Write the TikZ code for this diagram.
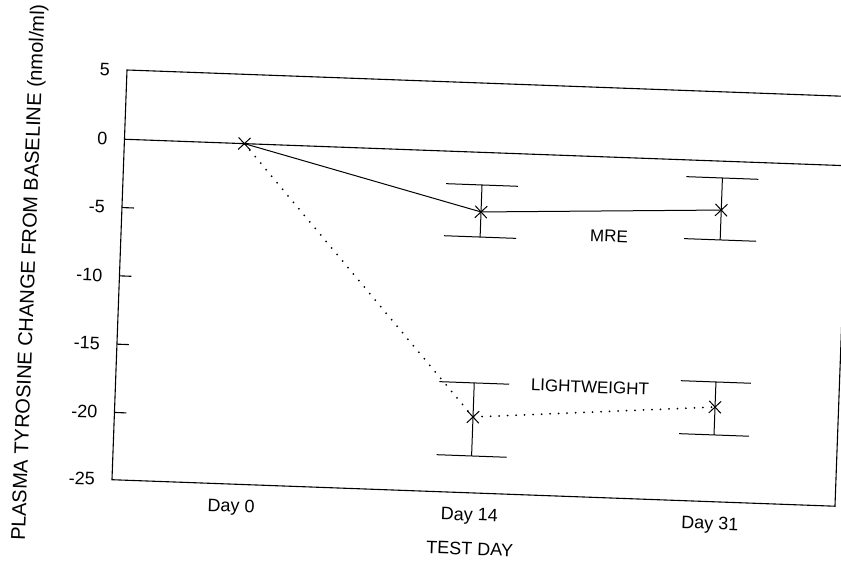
\documentclass[tikz,border=0pt]{standalone}
\usepackage{fontspec}
\setmainfont{Liberation Sans}
\usetikzlibrary{shapes.misc}
\begin{document}
\begin{tikzpicture}[x=1pt,y=-1pt,
  frameline/.style={line width=1.1pt},
  dataline/.style={line width=1pt},
  dotline/.style={line width=2pt, line cap=round, dash pattern=on 0pt off 8.5pt},
  errbar/.style={line width=1pt},
  xmark/.style={cross out, draw, line width=1pt, minimum size=11pt, inner sep=0pt},
  ticklab/.style={anchor=east, inner sep=0pt, font=\fontsize{18}{20}\selectfont},
  daylab/.style={inner sep=0pt, font=\fontsize{18}{20}\selectfont},
  serieslab/.style={inner sep=0pt, font=\fontsize{17}{20}\selectfont}]
\useasboundingbox (0,0) rectangle (841,564);
\begin{scope}[shift={(127,70)}, rotate=-2.1, transform shape]
  % frame
  \draw[frameline] (0,0) -- (723.5,0) -- (723.5,410) -- (0,410) -- cycle;
  % zero line
  \draw[frameline] (0,69.3) -- (723.5,69.3);
  % ticks
  \foreach \v in {137.65,206.0,274.35,342.7}
    \draw[frameline] (0,\v) -- (12,\v);
  % tick labels
  \node[ticklab] (t5)  at (-17,0)     {5};
  \node[ticklab] (t0)  at (-17,69.3)  {0};
  \node[ticklab] (tm5) at (-17,137.65) {-5};
  \node[ticklab] (tm10) at (-17,206.0) {-10};
  \node[ticklab] (tm15) at (-17,274.35) {-15};
  \node[ticklab] (tm20) at (-17,342.7) {-20};
  \node[ticklab] (tm25) at (-17,410) {-25};
  % axis titles
  \node[daylab, rotate=90, font=\fontsize{20}{22}\selectfont] (ylab) at (-90,206)
    {PLASMA TYROSINE CHANGE FROM BASELINE (nmol/ml)};
  \node[daylab] (xl0) at (120,433.5) {Day 0};
  \node[daylab] (xl14) at (358.5,433.5) {Day 14};
  \node[daylab] (xl31) at (599,433.5) {Day 31};
  \node[daylab] (xlab) at (360,466) {TEST DAY};
  % error bars
  \draw[errbar] (323,101.9) -- (395,101.9) (359,101.9) -- (359,154.0) (323,154.0) -- (395,154.0);
  \draw[errbar] (563,86.1) -- (635,86.1) (599,86.1) -- (599,148.1) (563,148.1) -- (635,148.1);
  \draw[errbar] (323.5,300.0) -- (393.5,300.0) (358.5,300.0) -- (358.5,373.1) (323.5,373.1) -- (393.5,373.1);
  \draw[errbar] (565,290.2) -- (635,290.2) (600,290.2) -- (600,343.2) (565,343.2) -- (635,343.2);
  % data points
  \node[xmark] (d0) at (120,69.3) {};
  \node[xmark] (m14) at (359,128.9) {};
  \node[xmark] (m31) at (599,118.2) {};
  \node[xmark] (l14) at (358.5,334.1) {};
  \node[xmark] (l31) at (600,315.3) {};
  % connectors
  \draw[dataline] (d0.center) -- (m14.center) -- (m31.center);
  \draw[dotline] (d0.center) -- (l14.center) -- (l31.center);
  % series labels
  \node[serieslab] (mre) at (487.8,148.2) {MRE};
  \node[serieslab] (lw) at (474.3,299.8) {LIGHTWEIGHT};
\end{scope}
\end{tikzpicture}
\end{document}
